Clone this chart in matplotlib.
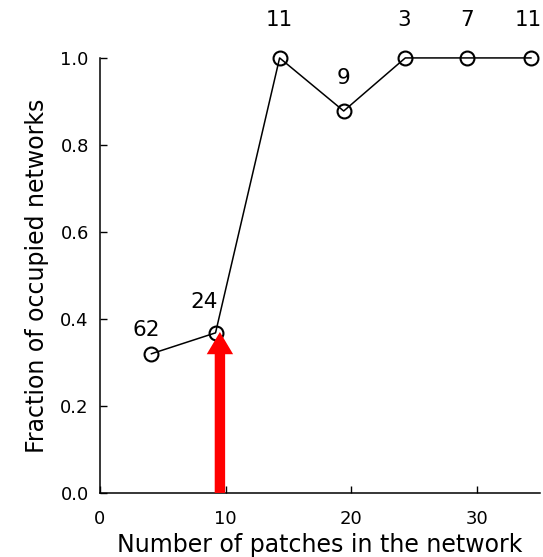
import matplotlib.pyplot as plt

plt.rcParams["font.family"] = ["DejaVu Sans"]

patches = [4.1, 9.2, 14.3, 19.4, 24.3, 29.2, 34.3]
occupied = [0.32, 0.368, 1.0, 0.878, 1.0, 1.0, 1.0]
n_networks = ["62", "24", "11", "9", "3", "7", "11"]
label_offsets = [(-4, 17), (-8, 22), (0, 27), (0, 24), (-1, 27), (0, 27), (-2, 27)]

threshold_x = 9.55

fig = plt.figure(figsize=(5.43, 5.57), dpi=100)
ax = fig.add_axes([0.184, 0.115, 0.81, 0.781])

ax.plot(patches, occupied, "-", color="black", linewidth=1.1, clip_on=False)
ax.plot(patches, occupied, "o", mfc="none", mec="black", mew=1.5,
        markersize=10, clip_on=False)

for x, y, s, off in zip(patches, occupied, n_networks, label_offsets):
    ax.annotate(s, (x, y), xytext=off, textcoords="offset points",
                ha="center", va="center", fontsize=15.5, annotation_clip=False)

# red arrow marking the threshold
ax.annotate("", xy=(threshold_x, 0.37), xytext=(threshold_x, 0.0),
            arrowprops=dict(arrowstyle="simple,head_length=1.6,head_width=1.9,tail_width=0.75",
                            color="#ff0000", lw=0, shrinkA=0, shrinkB=0),
            annotation_clip=False)

ax.set_xlim(0, 35)
ax.set_ylim(0, 1.0)
ax.set_xticks([0, 10, 20, 30])
ax.set_yticks([0.0, 0.2, 0.4, 0.6, 0.8, 1.0])
ax.set_yticklabels(["0.0", "0.2", "0.4", "0.6", "0.8", "1.0"])

ax.spines["top"].set_visible(False)
ax.spines["right"].set_visible(False)
ax.spines["left"].set_linewidth(1.1)
ax.spines["bottom"].set_linewidth(1.1)
ax.tick_params(direction="in", length=5, width=1, labelsize=13)
ax.tick_params(axis="x", pad=12)
ax.tick_params(axis="y", pad=8)

ax.set_xlabel("Number of patches in the network", fontsize=17, labelpad=4)
ax.set_ylabel("Fraction of occupied networks", fontsize=17, labelpad=8)

fig.savefig("out.png", dpi=100, facecolor="white")
